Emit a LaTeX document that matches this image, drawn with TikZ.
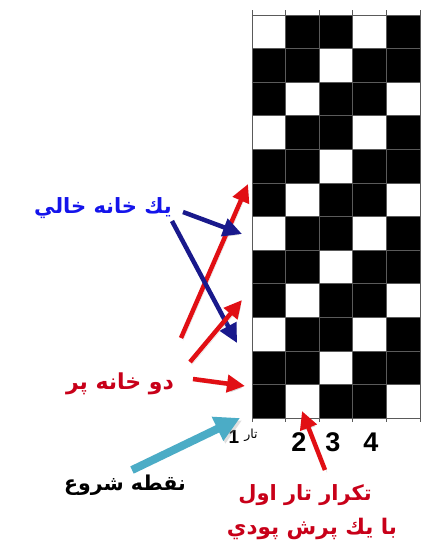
\documentclass[tikz,border=0pt]{standalone}
\usepackage{fontspec}
\setmainfont{Liberation Sans}
\newfontfamily\arabicfont[Script=Arabic]{DejaVu Sans}
\TeXXeTstate=1
\usetikzlibrary{arrows.meta}
\definecolor{redarrow}{RGB}{225,15,20}
\definecolor{redtext}{RGB}{200,0,25}
\definecolor{navyarrow}{RGB}{25,25,140}
\definecolor{bluetext}{RGB}{20,20,235}
\definecolor{cyanarrow}{RGB}{75,172,198}
\definecolor{gridline}{RGB}{90,90,90}
\tikzset{
  shadowed/.style={preaction={draw=black!35, opacity=0.35, transform canvas={shift={(2pt,-2.5pt)}}}},
  redarr/.style={draw=redarrow, line width=4.5pt, -{Triangle[length=18pt,width=17pt]}, shadowed},
  bluearr/.style={draw=navyarrow, line width=4.5pt, -{Triangle[length=19pt,width=18pt]}, shadowed},
  cyanarr/.style={draw=cyanarrow, line width=8pt, -{Triangle[length=25pt,width=25pt]}, shadowed},
  arlbl/.style={inner sep=0pt, font=\arabicfont\bfseries},
  digit/.style={inner sep=0pt, font=\fontsize{27}{30}\selectfont\bfseries},
  cellw/.style={fill=white},
}
\begin{document}
\begin{tikzpicture}[x=1pt,y=-1pt]
\useasboundingbox (0,0) rectangle (421,544);
\fill[white] (0,0) rectangle (421,544);
% grid
\def\cw{33.6}
\fill[black] (252,15) rectangle (420,418.2);
\foreach \r in {0,...,11}{
  \pgfmathtruncatemacro\cz{mod(30-\r,3)}
  \foreach \k in {0,3}{
    \pgfmathtruncatemacro\cc{\cz+\k}
    \ifnum\cc<5
      \fill[cellw] ({252+\cc*\cw},{15+\r*\cw}) rectangle ++(\cw,\cw);
    \fi
  }
}
\foreach \i in {0,...,5}{
  \draw[gridline, line width=0.9pt] ({252+\i*\cw},10) -- ({252+\i*\cw},421.5);
}
\foreach \j in {0,...,12}{
  \draw[gridline, line width=0.9pt] (252,{15+\j*\cw}) -- (420,{15+\j*\cw});
}
% column labels
\node[inner sep=0pt, font=\fontsize{19}{21}\selectfont\bfseries] (n1) at (234,437) {1};
\node[inner sep=0pt, font=\arabicfont\fontsize{12.5}{14}\selectfont] (tar) at (251,435) {\beginR تار\endR};
\node[digit] (n2) at (299,442) {2};
\node[digit] (n3) at (333,442) {3};
\node[digit] (n4) at (371,442) {4};
% arrow coordinates
\coordinate (ra1) at (181,338); \coordinate (ra2) at (248,184);
\coordinate (rb1) at (190,362); \coordinate (rb2) at (242,300);
\coordinate (rc1) at (193,379); \coordinate (rc2) at (245,386);
\coordinate (rd1) at (325,470); \coordinate (rd2) at (302,411);
\coordinate (ba1) at (183,212); \coordinate (ba2) at (242,234);
\coordinate (bb1) at (172,221); \coordinate (bb2) at (237,343);
\coordinate (ca1) at (132,470); \coordinate (ca2) at (240,418);
\draw[redarr] (ra1) -- (ra2);
\draw[bluearr] (bb1) -- (bb2);
\draw[redarr] (rb1) -- (rb2);
\draw[redarr] (rc1) -- (rc2);
\draw[bluearr] (ba1) -- (ba2);
\draw[cyanarr] (ca1) -- (ca2);
\draw[redarr] (rd1) -- (rd2);
% labels
\node[arlbl, text=bluetext, font=\arabicfont\bfseries\fontsize{21}{24}\selectfont] (empty) at (103,208) {\beginR يك خانه خالي\endR};
\node[arlbl, text=redtext, font=\arabicfont\bfseries\fontsize{22}{25}\selectfont] (full) at (120,384) {\beginR دو خانه پر\endR};
\node[arlbl, text=black, font=\arabicfont\bfseries\fontsize{20.5}{24}\selectfont] (start) at (125,485) {\beginR نقطه شروع\endR};
\node[arlbl, text=redtext, font=\arabicfont\bfseries\fontsize{21}{24}\selectfont] (rep1) at (305,495) {\beginR تكرار تار اول\endR};
\node[arlbl, text=redtext, font=\arabicfont\bfseries\fontsize{21.5}{24}\selectfont] (rep2) at (312,529) {\beginR با يك پرش پودي\endR};
\end{tikzpicture}
\end{document}
